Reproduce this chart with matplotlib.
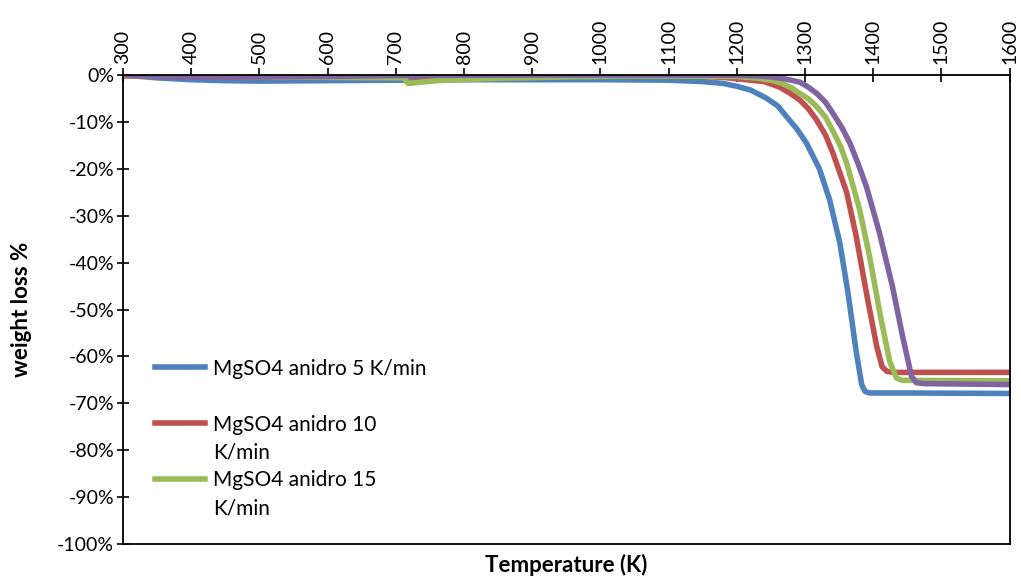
import matplotlib
matplotlib.use("Agg")
import matplotlib.pyplot as plt
from matplotlib.ticker import PercentFormatter, MultipleLocator
from matplotlib.lines import Line2D

plt.rcParams['font.family'] = ['Lato', 'DejaVu Sans']
plt.rcParams['axes.unicode_minus'] = False

# TGA curves, MgSO4 anidro at different heating rates (T in K, weight loss in %)
t_5 = [300, 350, 400, 450, 500, 600, 700, 800, 900, 1000, 1100, 1150, 1180, 1200, 1220,
       1243, 1260, 1273, 1288, 1302, 1321, 1336, 1351, 1363, 1375, 1383, 1388, 1395,
       1450, 1600]
w_5 = [0, -0.6, -1.0, -1.2, -1.3, -1.2, -1.1, -1.0, -1.0, -1.0, -1.1, -1.4, -1.8, -2.4,
       -3.2, -4.9, -6.6, -8.9, -11.5, -14.5, -20.0, -26.6, -35.8, -46.5, -59.0, -66.0,
       -67.5, -67.8, -67.8, -67.9]

t_10 = [300, 500, 650, 800, 1000, 1150, 1180, 1200, 1220, 1240, 1263, 1278, 1292, 1305,
        1317, 1330, 1341, 1361, 1375, 1390, 1405, 1413, 1420, 1430, 1600]
w_10 = [-0.2, -0.5, -0.4, -0.2, -0.1, -0.3, -0.5, -0.8, -1.1, -1.4, -2.6, -3.9, -5.3,
        -7.2, -9.6, -12.8, -16.7, -25.0, -34.4, -46.5, -57.8, -62.2, -63.2, -63.4, -63.4]

t_15 = [300, 500, 700, 712, 718, 760, 850, 950, 1050, 1200, 1230, 1250, 1265, 1280,
        1292, 1305, 1317, 1330, 1341, 1352, 1361, 1380, 1395, 1410, 1424, 1434, 1442,
        1600]
w_15 = [-0.1, -0.4, -0.6, -0.6, -1.8, -1.2, -0.7, -0.4, -0.2, -0.3, -0.7, -1.1, -1.7,
        -2.7, -3.9, -5.1, -6.7, -9.0, -12.0, -15.2, -18.8, -28.7, -39.0, -51.0, -61.0,
        -64.6, -65.1, -65.2]

t_20 = [300, 400, 500, 600, 700, 900, 1100, 1200, 1230, 1250, 1270, 1292, 1305, 1317,
        1330, 1341, 1354, 1366, 1378, 1390, 1409, 1428, 1443, 1456, 1463, 1475, 1600]
w_20 = [0, -0.4, -0.4, -0.3, -0.1, 0, 0, -0.05, -0.2, -0.4, -0.8, -1.5, -2.6, -3.9,
        -5.8, -8.2, -11.2, -14.6, -19.0, -23.8, -33.6, -45.0, -55.7, -64.2, -65.6, -65.8,
        -66.0]

labels = ['MgSO4 anidro 5 K/min', 'MgSO4 anidro 10\nK/min', 'MgSO4 anidro 15\nK/min']
colors = ['#4F81BD', '#C0504D', '#9BBB59', '#8064A2']

fig = plt.figure(figsize=(10.21, 5.78), dpi=100)
ax = fig.add_axes([0.1205, 0.0588, 0.8684, 0.8114])

lw = 4.0
ax.plot(t_5, w_5, color=colors[0], lw=lw, solid_joinstyle='round')
ax.plot(t_10, w_10, color=colors[1], lw=lw, solid_joinstyle='round')
ax.plot(t_15, w_15, color=colors[2], lw=lw, solid_joinstyle='round')
ax.plot(t_20, w_20, color=colors[3], lw=lw, solid_joinstyle='round')

ax.set_xlim(300, 1600)
ax.set_ylim(-100, 0)
ax.xaxis.set_major_locator(MultipleLocator(100))
ax.yaxis.set_major_locator(MultipleLocator(10))
ax.yaxis.set_major_formatter(PercentFormatter(decimals=0))

# x axis sits on the 0% line, labels on top
ax.xaxis.tick_top()
ax.tick_params(axis='x', direction='inout', length=10, width=1.2, pad=3,
               labelsize=14, labelrotation=90)
ax.tick_params(axis='y', direction='inout', length=9, width=1.2, pad=2, labelsize=14)
for s in ax.spines.values():
    s.set_linewidth(1.3)
    s.set_color('black')

ax.set_ylabel('weight loss %', fontsize=16, fontweight='bold', labelpad=18)
ax.text(0.5, -0.045, 'Temperature (K)', transform=ax.transAxes, ha='center', va='center',
        fontsize=16, fontweight='bold')

# legend rows: first line of each entry carries the line sample
blank = Line2D([], [], color='none')
handles = [Line2D([], [], color=colors[0], lw=lw), blank,
           Line2D([], [], color=colors[1], lw=lw), blank,
           Line2D([], [], color=colors[2], lw=lw), blank]
rows = []
for lab in labels:
    parts = lab.split('\n')
    rows += [parts[0], parts[1] if len(parts) > 1 else ' ']
ax.legend(handles, rows, loc='upper left', bbox_to_anchor=(0.036, 0.395), frameon=False,
          fontsize=15, handlelength=2.4, handletextpad=0.4, labelspacing=0.38,
          borderpad=0, borderaxespad=0)

fig.savefig('out.png', dpi=100)
